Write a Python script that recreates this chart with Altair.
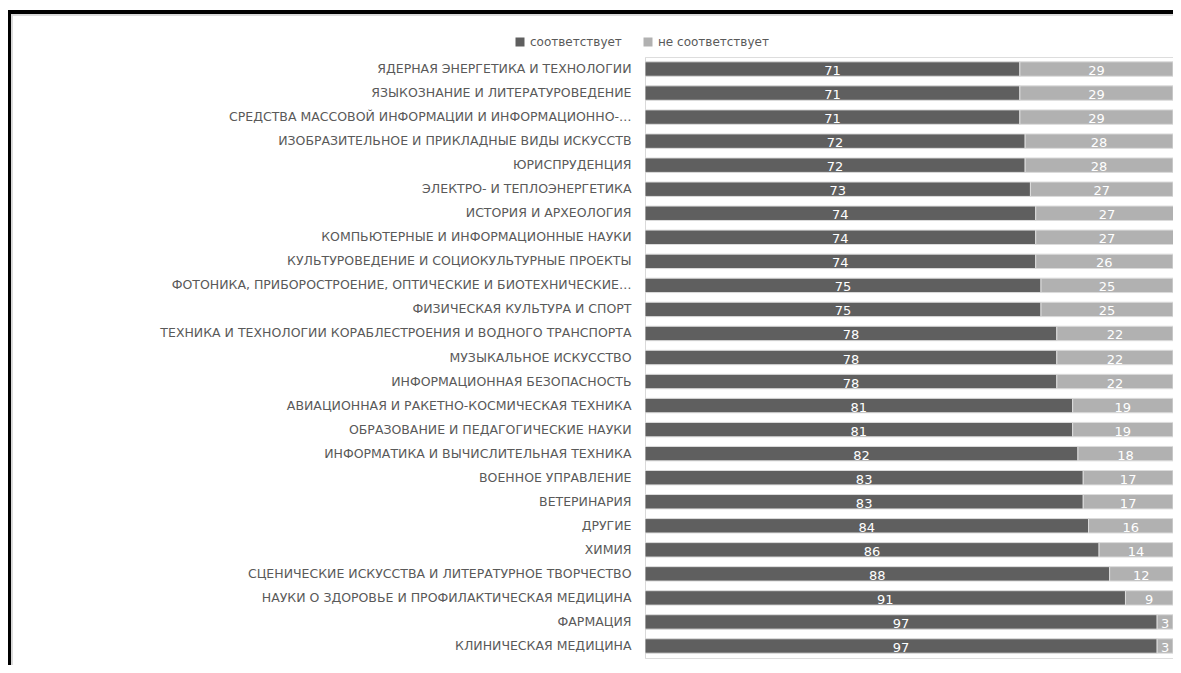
import altair as alt
import pandas as pd

categories = [
    "ЯДЕРНАЯ ЭНЕРГЕТИКА И ТЕХНОЛОГИИ",
    "ЯЗЫКОЗНАНИЕ И ЛИТЕРАТУРОВЕДЕНИЕ",
    "СРЕДСТВА МАССОВОЙ ИНФОРМАЦИИ И ИНФОРМАЦИОННО-…",
    "ИЗОБРАЗИТЕЛЬНОЕ И ПРИКЛАДНЫЕ ВИДЫ ИСКУССТВ",
    "ЮРИСПРУДЕНЦИЯ",
    "ЭЛЕКТРО- И ТЕПЛОЭНЕРГЕТИКА",
    "ИСТОРИЯ И АРХЕОЛОГИЯ",
    "КОМПЬЮТЕРНЫЕ И ИНФОРМАЦИОННЫЕ НАУКИ",
    "КУЛЬТУРОВЕДЕНИЕ И СОЦИОКУЛЬТУРНЫЕ ПРОЕКТЫ",
    "ФОТОНИКА, ПРИБОРОСТРОЕНИЕ, ОПТИЧЕСКИЕ И БИОТЕХНИЧЕСКИЕ…",
    "ФИЗИЧЕСКАЯ КУЛЬТУРА И СПОРТ",
    "ТЕХНИКА И ТЕХНОЛОГИИ КОРАБЛЕСТРОЕНИЯ И ВОДНОГО ТРАНСПОРТА",
    "МУЗЫКАЛЬНОЕ ИСКУССТВО",
    "ИНФОРМАЦИОННАЯ БЕЗОПАСНОСТЬ",
    "АВИАЦИОННАЯ И РАКЕТНО-КОСМИЧЕСКАЯ ТЕХНИКА",
    "ОБРАЗОВАНИЕ И ПЕДАГОГИЧЕСКИЕ НАУКИ",
    "ИНФОРМАТИКА И ВЫЧИСЛИТЕЛЬНАЯ ТЕХНИКА",
    "ВОЕННОЕ УПРАВЛЕНИЕ",
    "ВЕТЕРИНАРИЯ",
    "ДРУГИЕ",
    "ХИМИЯ",
    "СЦЕНИЧЕСКИЕ ИСКУССТВА И ЛИТЕРАТУРНОЕ ТВОРЧЕСТВО",
    "НАУКИ О ЗДОРОВЬЕ И ПРОФИЛАКТИЧЕСКАЯ МЕДИЦИНА",
    "ФАРМАЦИЯ",
    "КЛИНИЧЕСКАЯ МЕДИЦИНА",
]
match = [71, 71, 71, 72, 72, 73, 74, 74, 74, 75, 75, 78, 78, 78, 81, 81, 82, 83, 83, 84, 86, 88, 91, 97, 97]
mismatch = [29, 29, 29, 28, 28, 27, 27, 27, 26, 25, 25, 22, 22, 22, 19, 19, 18, 17, 17, 16, 14, 12, 9, 3, 3]
series = ["соответствует", "не соответствует"]
colors = ["#5f5f5f", "#b1b1b1"]

rows = []
for c, m, n in zip(categories, match, mismatch):
    rows.append({"cat": c, "series": series[0], "value": m, "ord": 0})
    rows.append({"cat": c, "series": series[1], "value": n, "ord": 1})
df = pd.DataFrame(rows)

FONT = "DejaVu Sans"

xscale = alt.Scale(domain=[0, 100], nice=False)

base = alt.Chart(df).encode(
    y=alt.Y("cat:N", sort=categories, title=None,
            scale=alt.Scale(paddingInner=0.4, paddingOuter=0.2),
            axis=alt.Axis(labelFontSize=12.5, labelColor="#595959", labelFont=FONT,
                          labelPadding=14, ticks=False, domainColor="#d9d9d9",
                          labelLimit=700)),
    order=alt.Order("ord:Q"),
)

bars = base.mark_bar(stroke="#dcdcdc", strokeWidth=1, clip=True).encode(
    x=alt.X("value:Q", stack="zero", title=None, scale=xscale, axis=None),
    color=alt.Color("series:N", sort=series,
                    scale=alt.Scale(domain=series, range=colors),
                    legend=alt.Legend(title=None, orient="none", direction="horizontal",
                                      legendX=-131, legendY=-21, symbolType="square",
                                      symbolSize=81, symbolStrokeWidth=0,
                                      labelFontSize=12, labelColor="#595959",
                                      labelFont=FONT, columnPadding=20, labelOffset=4,
                                      labelLimit=300)),
)

labels = base.mark_text(color="white", fontSize=13, font=FONT, dy=2).encode(
    x=alt.X("value:Q", stack="zero", bandPosition=0.5, scale=xscale, axis=None),
    text=alt.Text("value:Q"),
    detail="series:N",
)

# chart frame
frame_top = alt.Chart(df).mark_rule(color="black", strokeWidth=2.5).encode(
    x=alt.value(-637), x2=alt.value(700), y=alt.value(-45))
frame_left = alt.Chart(df).mark_rule(color="black", strokeWidth=2.5).encode(
    x=alt.value(-636), y=alt.value(-46), y2=alt.value(700))
shade_top = alt.Chart(df).mark_rule(color="#d9d9d9", strokeWidth=2).encode(
    x=alt.value(-635), x2=alt.value(700), y=alt.value(-42.8))
shade_left = alt.Chart(df).mark_rule(color="#d9d9d9", strokeWidth=2).encode(
    x=alt.value(-633.8), y=alt.value(-44), y2=alt.value(700))

chart = alt.layer(bars, labels, shade_top, shade_left, frame_top, frame_left).properties(
    width=528, height=601,
    autosize=alt.AutoSizeParams(type="none"),
    padding={"left": 637, "top": 49, "right": 0, "bottom": 7},
).configure_view(stroke="#d9d9d9", strokeWidth=1).configure(background="white")

chart.save("out.html", embed_options={"renderer": "svg", "actions": False})
